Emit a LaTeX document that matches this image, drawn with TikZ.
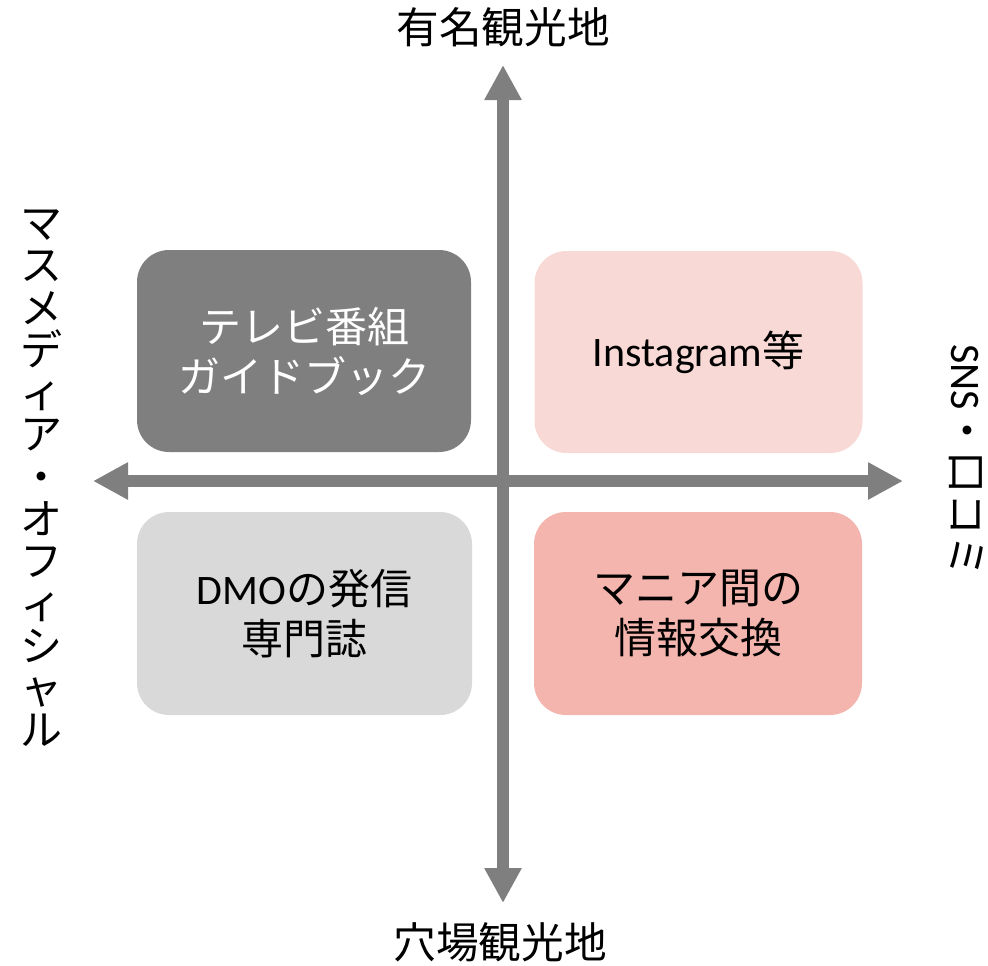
\documentclass[tikz,border=0pt]{standalone}
\usepackage{fontspec}
\setmainfont{Noto Sans CJK JP}
\newfontfamily\lat{Carlito}
\usetikzlibrary{arrows.meta}
\definecolor{axisgray}{HTML}{7F7F7F}
\definecolor{darkbox}{HTML}{7F7F7F}
\definecolor{pinkbox}{HTML}{F8D9D5}
\definecolor{graybox}{HTML}{D9D9D9}
\definecolor{salmonbox}{HTML}{F4B5AE}
\tikzset{
  quad/.style={rounded corners=24pt, inner sep=0pt, align=center,
    font=\fontsize{31.5}{37.5}\selectfont},
  axislabel/.style={inner sep=0pt, font=\fontsize{32}{38}\selectfont},
  axisarrow/.style={draw=axisgray, line width=9pt,
    {Triangle[width=26.25pt 0 0, length=26.25pt 0 0]}-{Triangle[width=26.25pt 0 0, length=26.25pt 0 0]}},
  vchar/.style={inner sep=0pt, text height=22pt, text depth=6pt, font=\fontsize{31.5}{37}\selectfont}
}
\begin{document}
\begin{tikzpicture}[x=0.75pt,y=-0.75pt]
\useasboundingbox (0,0) rectangle (988,965);
% quadrant boxes
\node[quad, fill=darkbox, text=white, minimum width=250.5pt, minimum height=151.5pt] (tl) at (304,351) {テレビ番組\\ガイドブック};
\node[quad, fill=pinkbox, text=black, minimum width=246pt, minimum height=151.5pt] (tr) at (698.5,352) {{\lat Instagram}等};
\node[quad, fill=graybox, text=black, minimum width=251.25pt, minimum height=152.25pt] (bl) at (304.5,613.5) {{\lat DMO}の発信\\専門誌};
\node[quad, fill=salmonbox, text=black, minimum width=246pt, minimum height=152.25pt] (br) at (698,613.5) {マニア間の\\情報交換};
% axes
\coordinate (top) at (503,65);
\coordinate (bottom) at (503,903);
\coordinate (left) at (93,481);
\coordinate (right) at (903,481);
\draw[axisarrow] (top) -- (bottom);
\draw[axisarrow] (left) -- (right);
% axis labels
\node[axislabel] (toplabel) at (503,27) {有名観光地};
\node[axislabel] (bottomlabel) at (500,942) {穴場観光地};
\node[axislabel, font=\fontsize{31.5}{37}\selectfont, rotate=-90] (rightlabel) at (966,461) {{\lat SNS}・口コミ};
\foreach \ch [count=\i from 0] in {マ,ス,メ,デ,ィ,ア,・,オ,フ,ィ,シ,ャ,ル}{
  \node[vchar] (vl\i) at (41,{228+42.25*\i}) {\ch};
}
\end{tikzpicture}
\end{document}
